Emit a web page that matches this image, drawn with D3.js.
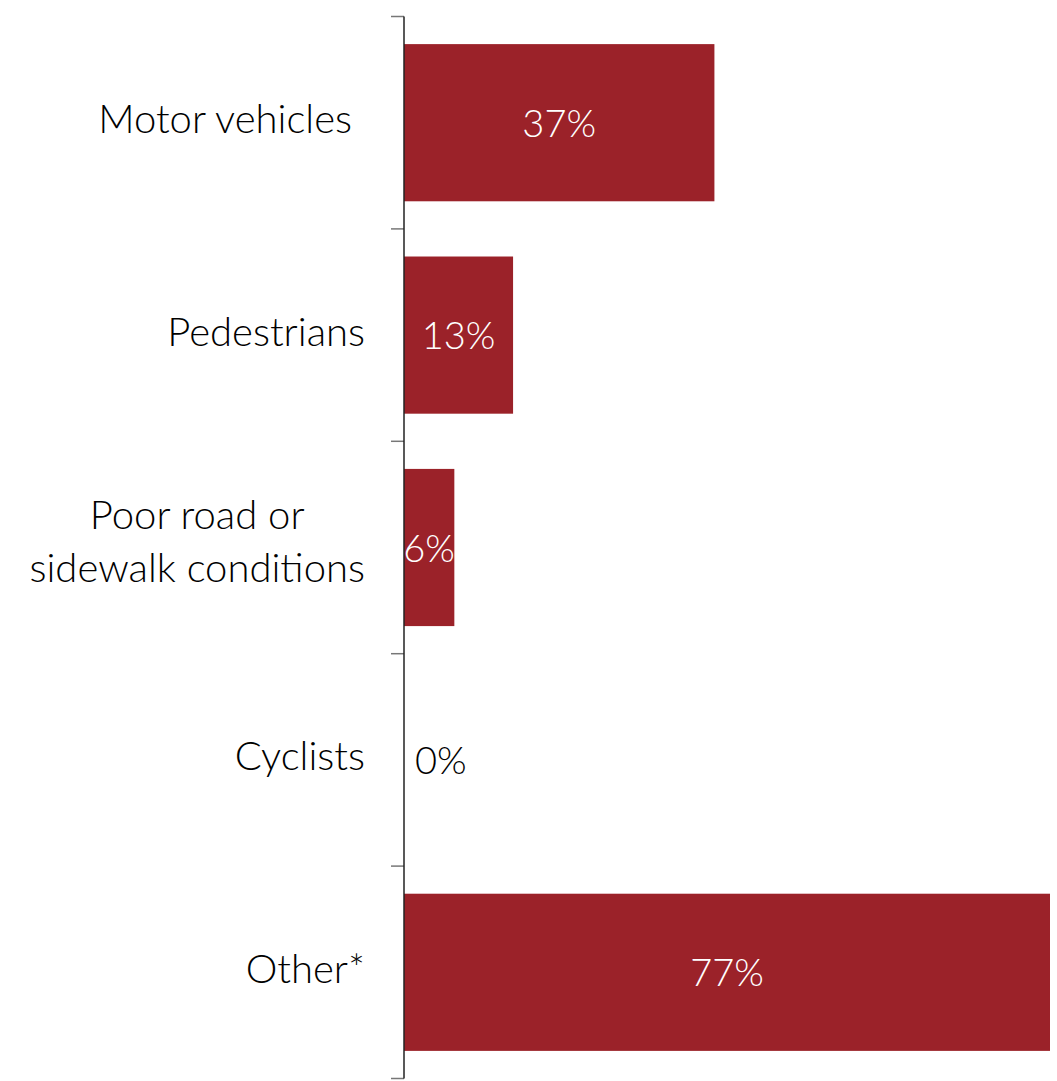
<!DOCTYPE html>
<html>
<head>
<meta charset="utf-8">
<script src="https://cdn.jsdelivr.net/npm/d3@7"></script>
<style>
  body { margin: 0; background: #fff; }
  text { font-family: Lato, "Noto Sans", sans-serif; font-weight: 300; }
</style>
</head>
<body>
<div id="chart"></div>
<script>
// Data
const categories = ["Motor vehicles", "Pedestrians", "Poor road or\nsidewalk conditions", "Cyclists", "Other*"];
const values = [37, 13, 6, 0, 77];

const barColor = "#9b2229";
const svgWidth = 1057, svgHeight = 1081;
const margin = { top: 16.5, right: 7, bottom: 2.5, left: 404 };
const labelRight = 365;

const svg = d3.select("#chart").append("svg")
  .attr("width", svgWidth)
  .attr("height", svgHeight);

const data = categories.map((c, i) => ({ label: c, value: values[i] }));

// Scales
const xScale = d3.scaleLinear()
  .domain([0, 77])
  .range([margin.left, svgWidth - margin.right]);
const yScale = d3.scaleBand()
  .domain(categories)
  .range([margin.top, svgHeight - margin.bottom])
  .paddingInner(0.26)
  .paddingOuter(0.13);
const mid = (d) => yScale(d.label) + yScale.bandwidth() / 2;

// Bars
svg.append("g")
  .selectAll("rect")
  .data(data)
  .join("rect")
  .attr("x", xScale(0))
  .attr("y", (d) => yScale(d.label))
  .attr("width", (d) => xScale(d.value) - xScale(0))
  .attr("height", yScale.bandwidth())
  .attr("fill", barColor);

// Value labels
svg.append("g")
  .selectAll("text")
  .data(data)
  .join("text")
  .attr("x", (d) => d.value > 0 ? (xScale(0) + xScale(d.value)) / 2 : xScale(0) + 11)
  .attr("y", (d) => mid(d) + 14)
  .attr("text-anchor", (d) => d.value > 0 ? "middle" : "start")
  .attr("fill", (d) => d.value > 0 ? "#fff" : "#000")
  .style("font-size", "38px")
  .text((d) => d.value + "%");

// Y axis: line with ticks at band boundaries
const step = yScale.step();
const bounds = d3.range(categories.length + 1).map((i) => margin.top + i * step);
const gAxis = svg.append("g");
gAxis.selectAll("line.tick")
  .data(bounds)
  .join("line")
  .attr("class", "tick")
  .attr("x1", xScale(0) - 13)
  .attr("x2", xScale(0))
  .attr("y1", (d) => d)
  .attr("y2", (d) => d)
  .attr("stroke", "#777")
  .attr("stroke-width", 1.5);
gAxis.append("line")
  .attr("x1", xScale(0))
  .attr("x2", xScale(0))
  .attr("y1", bounds[0])
  .attr("y2", bounds[bounds.length - 1])
  .attr("stroke", "#222")
  .attr("stroke-width", 1.5);

// Category labels (multi-line labels are centred on their widest line)
svg.append("g")
  .selectAll("text")
  .data(data)
  .join("text")
  .attr("fill", "#000")
  .style("font-size", "40px")
  .each(function (d) {
    const lines = d.label.split("\n");
    const lh = 53;
    const text = d3.select(this);
    if (lines.length === 1) {
      text.attr("text-anchor", "end")
        .attr("x", d.label === "Motor vehicles" ? labelRight - 13 : labelRight)
        .attr("y", mid(d) + 10.5)
        .text(d.label);
      return;
    }
    const spans = text.selectAll("tspan")
      .data(lines)
      .join("tspan")
      .attr("y", (l, i) => mid(d) - 19 + i * lh)
      .text((l) => l);
    const widths = spans.nodes().map((n) => n.getComputedTextLength());
    const maxW = d3.max(widths);
    spans.attr("text-anchor", "middle").attr("x", labelRight - maxW / 2);
  });
</script>
</body>
</html>
